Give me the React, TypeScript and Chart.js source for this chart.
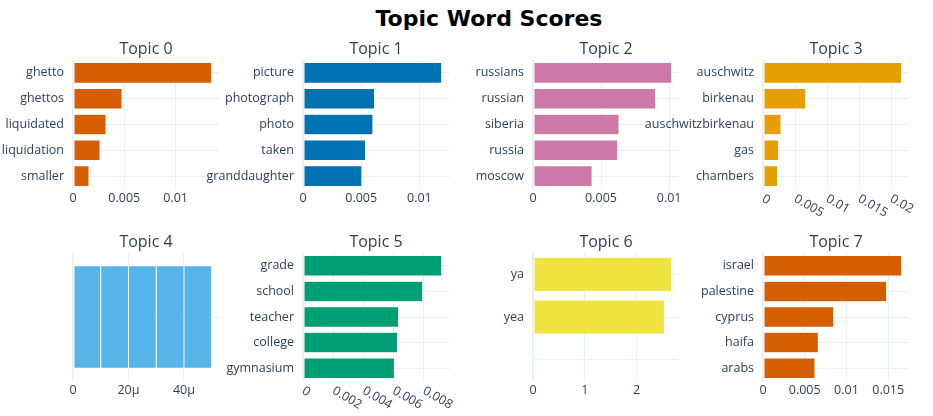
import React, { useEffect, useRef } from "react";
import { Chart, registerables } from "chart.js";

Chart.register(...registerables);

// ---------------- data ----------------
const chartTitle = "Topic Word Scores";
const topicTitles = ["Topic 0", "Topic 1", "Topic 2", "Topic 3", "Topic 4", "Topic 5", "Topic 6", "Topic 7"];
const topicColors = ["#D55E00", "#0072B2", "#CC79A7", "#E69F00", "#56B4E9", "#009E73", "#F0E442", "#D55E00"];

const topic0Words = ["ghetto", "ghettos", "liquidated", "liquidation", "smaller"];
const topic0Scores = [0.01352, 0.00478, 0.00322, 0.00263, 0.00156];
const topic0Ticks = [0, 0.005, 0.01];

const topic1Words = ["picture", "photograph", "photo", "taken", "granddaughter"];
const topic1Scores = [0.01192, 0.00615, 0.00601, 0.00537, 0.00506];
const topic1Ticks = [0, 0.005, 0.01];

const topic2Words = ["russians", "russian", "siberia", "russia", "moscow"];
const topic2Scores = [0.01019, 0.00901, 0.00632, 0.00622, 0.00434];
const topic2Ticks = [0, 0.005, 0.01];

const topic3Words = ["auschwitz", "birkenau", "auschwitzbirkenau", "gas", "chambers"];
const topic3Scores = [0.02166, 0.00666, 0.00281, 0.00244, 0.00228];
const topic3Ticks = [0, 0.005, 0.01, 0.015, 0.02];

// five empty words that share one (blank) category
const topic4Words = [""];
const topic4Scores = [0.00001, 0.00001, 0.00001, 0.00001, 0.00001];
const topic4Ticks = [0, 0.00002, 0.00004];

const topic5Words = ["grade", "school", "teacher", "college", "gymnasium"];
const topic5Scores = [0.00918, 0.00792, 0.00633, 0.00625, 0.00605];
const topic5Ticks = [0, 0.002, 0.004, 0.006, 0.008];

const topic6Words = ["ya", "yea", ""];
const topic6Scores = [2.681, 2.54, 0];
const topic6Ticks = [0, 1, 2];

const topic7Words = ["israel", "palestine", "cyprus", "haifa", "arabs"];
const topic7Scores = [0.01662, 0.01482, 0.00847, 0.00663, 0.00623];
const topic7Ticks = [0, 0.005, 0.01, 0.015];

// ---------------- styling / layout ----------------
const FONT = '"Open Sans", verdana, arial, sans-serif';
const TEXT = "#2a3f5f";
const GRID = "#EBF0F8";
const TICK_SIZE = 12.5;

const Y_AXIS_W = 135;
const RIGHT_PAD = 30;
const TOP_PAD = 30;
const X_AXIS_H = 34;
const PLOT_W = 146;
const colLefts = [73, 303, 533, 763];
const rowTops = [60, 253];
const rowHeights = [129, 128];

function fmt(v: number): string {
  if (v === 0) return "0";
  if (Math.abs(v) < 1e-3) return Math.round(v * 1e6) + "µ";
  return String(parseFloat(v.toPrecision(6)));
}

type TopicSpec = {
  words: string[];
  scores: number[];
  ticks: number[];
  stacked?: boolean;
  rotated?: boolean;
};

const topics: TopicSpec[] = [
  { words: topic0Words, scores: topic0Scores, ticks: topic0Ticks },
  { words: topic1Words, scores: topic1Scores, ticks: topic1Ticks },
  { words: topic2Words, scores: topic2Scores, ticks: topic2Ticks },
  { words: topic3Words, scores: topic3Scores, ticks: topic3Ticks, rotated: true },
  { words: topic4Words, scores: topic4Scores, ticks: topic4Ticks, stacked: true },
  { words: topic5Words, scores: topic5Scores, ticks: topic5Ticks, rotated: true },
  { words: topic6Words, scores: topic6Scores, ticks: topic6Ticks },
  { words: topic7Words, scores: topic7Scores, ticks: topic7Ticks },
];

const overlayPlugin = {
  id: "overlay",
  afterDraw(chart: any, _args: any, opts: any) {
    const ctx = chart.ctx;
    const a = chart.chartArea;
    ctx.save();
    ctx.fillStyle = TEXT;
    ctx.font = `16px ${FONT}`;
    ctx.textAlign = "center";
    ctx.textBaseline = "alphabetic";
    ctx.fillText(opts.title, (a.left + a.right) / 2, a.top - 6);
    if (opts.rotated) {
      const xs = chart.scales.x;
      ctx.font = `${TICK_SIZE}px ${FONT}`;
      ctx.textAlign = "left";
      ctx.textBaseline = "middle";
      for (const t of xs.ticks) {
        const px = xs.getPixelForValue(t.value);
        ctx.save();
        ctx.translate(px, a.bottom + 9);
        ctx.rotate(Math.PI / 6);
        ctx.fillText(fmt(t.value), 0, 0);
        ctx.restore();
      }
    }
    ctx.restore();
  },
};

function TopicChart({ index }: { index: number }) {
  const ref = useRef<HTMLCanvasElement | null>(null);
  const spec = topics[index];
  const col = index % 4;
  const row = Math.floor(index / 4);
  const width = Y_AXIS_W + PLOT_W + RIGHT_PAD;
  const height = TOP_PAD + rowHeights[row] + X_AXIS_H;

  useEffect(() => {
    if (!ref.current) return;
    const color = topicColors[index];
    const datasets = spec.stacked
      ? spec.scores.map((v) => ({
          data: [v],
          backgroundColor: color,
          borderColor: "#ffffff",
          borderWidth: 0.5,
          borderSkipped: false as const,
          barPercentage: 0.8,
          categoryPercentage: 1,
        }))
      : [
          {
            data: spec.scores,
            backgroundColor: color,
            borderColor: "#ffffff",
            borderWidth: 0.5,
            borderSkipped: false as const,
            barPercentage: 0.8,
            categoryPercentage: 1,
          },
        ];
    const total = spec.stacked
      ? spec.scores.reduce((s, v) => s + v, 0)
      : Math.max(...spec.scores);
    const xMax = total / 0.95;

    const chart = new Chart(ref.current, {
      type: "bar",
      data: { labels: spec.words, datasets },
      plugins: [overlayPlugin],
      options: {
        indexAxis: "y",
        responsive: false,
        animation: false,
        layout: { padding: { top: TOP_PAD, right: RIGHT_PAD, left: 0, bottom: 0 } },
        plugins: {
          legend: { display: false },
          tooltip: { enabled: false },
          title: { display: false },
          overlay: { title: topicTitles[index], rotated: !!spec.rotated },
        } as any,
        scales: {
          x: {
            type: "linear",
            min: 0,
            max: xMax,
            stacked: !!spec.stacked,
            afterBuildTicks: (s: any) => {
              s.ticks = spec.ticks.map((v) => ({ value: v }));
            },
            afterFit: (s: any) => {
              s.height = X_AXIS_H;
              s.paddingLeft = 0;
              s.paddingRight = 0;
              s.paddingTop = 0;
              s.paddingBottom = 0;
            },
            grid: {
              color: GRID,
              lineWidth: (c: any) => (c.tick && c.tick.value === 0 ? 2 : 1),
              drawTicks: false,
            },
            border: { display: false },
            ticks: {
              display: !spec.rotated,
              padding: 2,
              color: TEXT,
              font: { family: FONT, size: TICK_SIZE },
              maxRotation: 0,
              minRotation: 0,
              callback: (v: any) => fmt(Number(v)),
            },
          },
          y: {
            type: "category",
            stacked: !!spec.stacked,
            afterFit: (s: any) => {
              s.width = Y_AXIS_W;
              s.paddingLeft = 0;
              s.paddingRight = 0;
              s.paddingTop = 0;
              s.paddingBottom = 0;
            },
            grid: { color: GRID, offset: false, drawTicks: false },
            border: { display: false },
            ticks: {
              padding: 9,
              color: TEXT,
              font: { family: FONT, size: TICK_SIZE },
              autoSkip: false,
            },
          },
        } as any,
      },
    });
    return () => chart.destroy();
  }, [index]);

  return (
    <canvas
      ref={ref}
      width={width}
      height={height}
      style={{
        position: "absolute",
        left: colLefts[col] - Y_AXIS_W,
        top: rowTops[row] - TOP_PAD,
        width,
        height,
      }}
    />
  );
}

export default function App() {
  return (
    <div
      style={{
        position: "absolute",
        left: 0,
        top: 0,
        width: 933,
        height: 416,
        overflow: "hidden",
        background: "#ffffff",
      }}
    >
      <div
        style={{
          position: "absolute",
          left: 489,
          top: 8,
          transform: "translateX(-50%)",
          whiteSpace: "nowrap",
          fontFamily: '"DejaVu Sans", Verdana, sans-serif',
          fontWeight: "bold",
          fontSize: 22,
          lineHeight: "22px",
          color: "#000000",
        }}
      >
        {chartTitle}
      </div>
      {topics.map((_, i) => (
        <TopicChart key={i} index={i} />
      ))}
    </div>
  );
}
